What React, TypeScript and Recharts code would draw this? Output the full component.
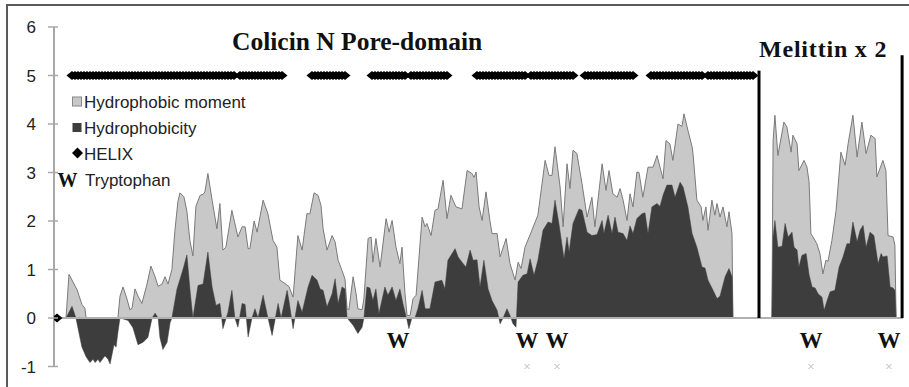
import React from 'react';
import { ComposedChart, Area, Scatter, XAxis, YAxis, ReferenceLine } from 'recharts';

// Residue position (sequence index) and hydrophobic moment
const momentPos = [
  0, 3, 4, 6.7, 8.3, 9.3, 9.7, 20.3, 21, 22, 23.3, 24.3, 25, 26, 27, 28.3, 30, 31.3, 32.7, 33.7, 35, 36, 37,
  38.3, 39.3, 40.3, 41, 42.3, 43.3, 44.3, 45.3, 46.3, 47.7, 48.7, 49.3, 50.3, 51.7, 53.3, 54.3, 55.3, 56.3,
  58.3, 60.3, 61.7, 62.7, 63.7, 64.3, 65.7, 66.7, 68.7, 70.3, 72, 73.3, 74.3, 76, 77.3, 78.7, 80.3, 81.7,
  83.3, 84.3, 85.7, 87, 88, 88.7, 90, 91.7, 92.7, 93.7, 95, 96, 96.7, 97.3, 98.7, 99.7, 100.3, 101.7, 102.3,
  103.7, 104.7, 105.3, 106.3, 107.7, 109.7, 110.7, 111.7, 113, 114.3, 115, 116, 116.7, 117.7, 118.7, 119.7,
  121.7, 122.7, 123.3, 124.7, 126, 127, 128.7, 130, 131.3, 133, 135, 136.7, 138.3, 139, 139.7, 140.7, 141.7,
  143, 144.3, 145, 146.7, 147.7, 149.7, 151, 152.7, 153.7, 154.7, 156, 158.3, 160.3, 162.7, 164, 165, 166,
  167.7, 168.7, 170, 171, 172, 173.3, 175, 176.7, 178.3, 179.3, 181.7, 183, 184, 185.3, 186.7, 187.7, 188.7,
  190, 191, 192, 193.3, 194, 195.3, 197, 198.7, 200, 202, 203, 204.3, 205.3, 207, 208.3, 209, 210.3, 211.7,
  212, 213.3, 214.7, 215.3, 216.3, 217, 218.3, 219.3, 220, 221, 222, 223.3, 224, 225, 225.3,
  238.3, 238.7, 239.3, 240.3, 242.3, 243.3, 244.7, 245.3, 246.7, 247.3, 249, 250, 250.7, 251.3, 252, 253.3,
  254.3, 255.3, 256.3, 257, 258.3, 259.7, 261.3, 262.7, 263.7, 265.3, 266.7, 268.3, 269.7, 271.3, 272.7,
  273.3, 275.3, 276.3, 277, 278.7, 279.3, 279.7,
];
const momentVal = [
  0, 0, 0.9, 0.58, 0.28, 0.2, 0, 0, 0.45, 0.64, 0.4, 0.17, 0.2, 0.6, 0.45, 0.3, 0.7, 1.07, 0.85, 0.65, 0.7, 0.85, 0.7,
  1.0, 1.8, 2.4, 2.58, 2.5, 2.2, 1.6, 1.28, 2.3, 2.53, 2.55, 2.6, 2.98, 2.43, 1.84, 2.36, 1.4, 1.46,
  2.22, 1.67, 1.88, 1.88, 1.43, 1.43, 2.0, 1.77, 2.43, 2.15, 1.6, 1.46, 0.78, 0.71, 0.65, 0.43, 1.7, 1.4,
  2.15, 2.15, 2.58, 2.53, 2.32, 1.84, 1.4, 1.7, 1.57, 1.19, 0.98, 0.8, 0.19, 0.17, 0.85, 0.5, 0.19, 0.17, 0.4,
  1.64, 1.67, 1.15, 1.64, 1.05, 2.05, 1.77, 2.01, 1.46, 1.12, 1.46, 0.5, 0.05, 0.05, 0.4, 0.47,
  2.08, 1.88, 1.95, 1.7, 2.22, 2.25, 2.84, 2.05, 2.53, 2.29, 2.25, 3.04, 2.98, 2.9, 3.01, 2.29, 2.01,
  2.6, 2.01, 1.74, 1.74, 1.26, 1.64, 1.12, 0.78, 1.15, 1.02, 1.46, 1.81, 2.12, 3.25, 2.94, 2.94, 3.53,
  2.7, 1.88, 3.18, 2.67, 3.46, 3.39, 2.77, 2.08, 2.49, 1.88, 3.18, 2.63, 3.04, 2.56, 2.49, 2.67, 2.43,
  2.01, 2.56, 2.29, 3.01, 3.0, 2.49, 3.11, 3.11, 3.35, 2.87, 3.66, 3.59, 3.25, 4.0, 3.95, 4.21, 3.87, 3.53,
  3.39, 2.43, 2.29, 2.01, 2.29, 1.81, 2.43, 2.12, 2.36, 2.08, 2.29, 1.88, 2.19, 1.74, 0,
  0, 3.66, 4.18, 3.35, 4.04, 3.94, 3.42, 3.77, 3.59, 3.04, 3.25, 3.11, 2.8, 1.74, 1.67, 1.53,
  1.33, 0.91, 1.19, 1.17, 1.6, 2.22, 3.42, 3.15, 3.59, 4.18, 3.32, 4.04, 3.39, 3.77, 3.7,
  2.91, 3.25, 3.04, 1.7, 1.67, 1.5, 0,
];

// Residue position and hydrophobicity
const hydroPos = [
  0, 3, 5, 6.3, 7.3, 8.3, 9.7, 11, 12, 12.7, 13.7, 14.3, 16, 17, 17.7, 19, 19.7, 20.3, 21, 23.7, 25.3, 27,
  28.7, 30.3, 31.7, 32.7, 33.7, 34.3, 35.3, 36.7, 37.7, 38.3, 40, 42, 43.3, 44.3, 45.3, 47, 48.7, 50.3, 51.7,
  53, 54.3, 55.3, 57, 58.3, 59.3, 60.3, 61.7, 62.7, 63.7, 65, 66, 67, 68.7, 70, 71.7, 73.7, 74.7, 76.7, 77.3,
  78.7, 80.3, 81.7, 83.7, 85, 86.7, 87.7, 88.7, 90, 91.7, 92.7, 93.7, 95, 96, 96.7, 98.7, 100.3, 101.7, 102.3,
  103.3, 104.3, 105.3, 106.3, 107.3, 109.3, 110.3, 111.7, 113, 114.3, 115.3, 116.7, 117.3, 118.3, 119.3,
  120.3, 121.7, 122.7, 124.3, 126, 128.3, 129.3, 130.3, 132.7, 133.7, 135, 136.3, 137.7, 138.7, 140, 141,
  142.3, 143.7, 145, 146.7, 147.7, 148.7, 150, 151, 152, 153, 153.7, 155.3, 156.7, 157.7, 159, 160.3, 162,
  163.7, 165, 166, 167.3, 169, 170, 170.7, 172, 174, 175, 176.7, 178.3, 180, 181.7, 182.3, 183.7, 185, 186,
  187, 188.7, 190, 191, 192, 193.3, 195, 196, 197, 198.3, 200, 201, 202, 203.3, 205, 206, 207.7, 208.7,
  210.3, 211.7, 213.3, 215, 216, 217, 218.7, 220, 221, 222.7, 224, 225, 225.3,
  238.3, 238.7, 239.3, 240.3, 241.7, 242.7, 243.7, 245, 245.7, 246.7, 247.3, 248.3, 249.7, 250.7, 251.7,
  252.7, 253.7, 255, 255.7, 256.7, 257.7, 259.3, 260.7, 262, 263.3, 264.3, 265.3, 266.7, 267.7, 268.7,
  269.7, 271, 272.3, 273.7, 274.7, 275.3, 276.7, 277.7, 278.7, 279.3, 279.7,
];
const hydroVal = [
  0, 0, 0.24, 0, -0.3, -0.6, -0.8, -0.92, -0.85, -0.92, -0.85, -0.92, -0.78, -0.85, -0.95, -0.55, -0.6, -0.3, 0, -0.05, -0.2, -0.55,
  -0.5, -0.4, 0, 0.1, 0, -0.4, -0.65, -0.5, -0.1, 0, 0.6, 1.0, 1.3, 0.6, 0, 0.67, 0.7, 1.36, 0.64,
  0.26, 0.3, -0.22, 0.12, 0.57, 0, -0.19, 0.3, 0.28, -0.39, 0, 0.19, 0, 0.47, 0.09, -0.36, 0.3, 0, 0.57, 0.36,
  -0.22, 0.36, 0.12, 0.64, 0.88, 0.78, 0.6, 0.57, 0.23, 0.5, 0.81, 0.3, 0.64, 0.6, 0, -0.15, -0.32, -0.19, 0,
  0.64, 0.62, 0.36, 0.6, 0.09, 0.64, 0.47, 0.64, 0.36, 0.6, 0.3, -0.05, -0.22, 0, 0,
  0.19, 0.57, 0.19, 0.19, 0.74, 0.78, 0.6, 1.19, 1.43, 1.26, 1.15, 1.05, 1.4, 1.19, 1.2, 0.64,
  1.19, 0.6, 0.36, 0.16, -0.12, 0, 0.19, 0.05, -0.12, -0.19, 0.74, 0.88, 0.91, 1.22, 0.88, 1.19, 1.81,
  1.98, 1.95, 2.43, 1.95, 1.22, 1.67, 1.36, 1.95, 2.25, 2.22, 1.77, 1.7, 1.72, 2.01, 1.74, 2.12, 1.74, 2.08,
  1.77, 1.74, 1.6, 1.9, 1.74, 2.05, 2.15, 2.17, 1.74, 2.29, 2.36, 2.3, 2.53, 2.74, 2.74, 2.49, 2.8, 2.7,
  2.29, 1.74, 1.46, 1.05, 1.03, 0.78, 0.57, 0.4, 0.45, 0.85, 1.02, 0.85, 0,
  0, 1.67, 2.01, 1.46, 1.48, 1.95, 1.67, 1.77, 1.46, 1.4, 1.05, 1.29, 1.33, 0.89, 0.64,
  0.62, 0.5, 0.43, 0.16, 0.36, 0.54, 0.57, 1.05, 1.26, 1.53, 1.53, 1.98, 1.57, 1.81, 1.91,
  1.46, 1.77, 1.7, 1.12, 1.33, 1.26, 1.28, 0.64, 0.62, 0.57, 0,
];

// Helix segments: [first residue, last residue]
const helixSegments: [number, number][] = [
  [5, 59], [61, 75], [85, 96], [105, 116], [118, 130], [140, 156], [158, 172], [176, 192], [198, 215], [217, 232],
];
const helixOffPos = [0];

const trpMarkPos = [156.7, 166.7, 251.3, 277.3];
const trpLabelPos = [113.7, 156.7, 166.7, 251.3, 277.3];
const colicinEnd = 234;
const melittinEnd = 281.7;
const yTicks = [-1, 0, 1, 2, 3, 4, 5, 6];

const allPos = Array.from(new Set([...momentPos, ...hydroPos])).sort((a, b) => a - b);
const mMap = new Map(momentPos.map((p, i) => [p, momentVal[i]]));
const hMap = new Map(hydroPos.map((p, i) => [p, hydroVal[i]]));
const table = allPos.map((p) => ({
  r: p,
  moment: mMap.has(p) ? mMap.get(p) : null,
  hydro: hMap.has(p) ? hMap.get(p) : null,
}));

const helixData: { r: number; helix: number }[] = [];
helixOffPos.forEach((p) => helixData.push({ r: p, helix: 0 }));
helixSegments.forEach(([s, e]) => {
  for (let r = s; r <= e; r++) helixData.push({ r, helix: 5 });
});
const trpMarkData = trpMarkPos.map((r) => ({ r, trp: -1 }));
const trpLabelData = trpLabelPos.map((r) => ({ r, trp: -1 }));

const SANS = '"Liberation Sans", Arial, sans-serif';
const SERIF = '"Liberation Serif", "Times New Roman", serif';
const AXIS_X = 54;

const Diamond = (props: any) => {
  const { cx, cy } = props;
  if (cx == null || cy == null) return null;
  return <polygon points={`${cx - 5.5},${cy} ${cx},${cy - 4.5} ${cx + 5.5},${cy} ${cx},${cy + 4.5}`} fill="#000" />;
};

const Cross = (props: any) => {
  const { cx, cy } = props;
  if (cx == null || cy == null) return null;
  return (
    <g stroke="#b8b8b8" strokeWidth={1}>
      <line x1={cx - 2.5} y1={cy - 2.5} x2={cx + 2.5} y2={cy + 2.5} />
      <line x1={cx - 2.5} y1={cy + 2.5} x2={cx + 2.5} y2={cy - 2.5} />
    </g>
  );
};

const WLabel = (props: any) => {
  const { cx, cy } = props;
  if (cx == null || cy == null) return null;
  return (
    <text x={cx} y={cy - 19} textAnchor="middle" fontFamily={SERIF} fontWeight="bold" fontSize={23} fill="#111">
      W
    </text>
  );
};

const YTick = (props: any) => {
  const { y, payload } = props;
  return (
    <g>
      <line x1={AXIS_X - 6} x2={AXIS_X + 4} y1={y} y2={y} stroke="#a8a8a8" strokeWidth={1.5} />
      <text x={AXIS_X - 18} y={y + 6} textAnchor="end" fontFamily={SANS} fontSize={17} fill="#222">
        {payload.value}
      </text>
    </g>
  );
};

export default function App() {
  return (
    <div style={{ position: 'absolute', left: 0, top: 0, width: 909, height: 387, overflow: 'hidden', background: '#fff' }}>
      <div style={{ position: 'absolute', left: 6, top: 4, width: 1000, height: 1000, border: '2px solid #5a5a5a' }} />
      <div style={{ position: 'absolute', left: 0, top: 0 }}>
        <ComposedChart width={909} height={387} data={table} margin={{ top: 27, right: 3, bottom: 20.5, left: 0 }}>
          <XAxis dataKey="r" type="number" domain={[-1, 283]} hide allowDataOverflow />
          <YAxis
            type="number"
            domain={[-1, 6]}
            ticks={yTicks}
            interval={0}
            width={54}
            tickSize={0}
            tickMargin={0}
            tickLine={false}
            axisLine={{ stroke: '#a8a8a8', strokeWidth: 2 }}
            tick={<YTick />}
          />
          <ReferenceLine segment={[{ x: 0, y: 0 }, { x: 282, y: 0 }]} stroke="#b0b0b0" strokeWidth={2} />
          <Area
            dataKey="moment"
            type="linear"
            fill="#c8c8c8"
            fillOpacity={1}
            stroke="#7a7a7a"
            strokeWidth={1}
            connectNulls
            dot={false}
            activeDot={false}
            isAnimationActive={false}
          />
          <Area
            dataKey="hydro"
            type="linear"
            fill="#3d3d3d"
            fillOpacity={1}
            stroke="#3d3d3d"
            strokeWidth={0.5}
            connectNulls
            dot={false}
            activeDot={false}
            isAnimationActive={false}
          />
          <ReferenceLine segment={[{ x: colicinEnd, y: 0 }, { x: colicinEnd, y: 5.1 }]} stroke="#000" strokeWidth={3} />
          <ReferenceLine segment={[{ x: melittinEnd, y: 0 }, { x: melittinEnd, y: 5.42 }]} stroke="#000" strokeWidth={3} />
          <Scatter data={helixData} dataKey="helix" shape={<Diamond />} isAnimationActive={false} />
          <Scatter data={trpMarkData} dataKey="trp" shape={<Cross />} isAnimationActive={false} />
          <Scatter data={trpLabelData} dataKey="trp" shape={<WLabel />} isAnimationActive={false} />
        </ComposedChart>
      </div>
      <svg width={909} height={387} style={{ position: 'absolute', left: 0, top: 0, pointerEvents: 'none' }}>
        <text x={232} y={50} fontFamily={SERIF} fontWeight="bold" fontSize={25.5} fill="#111">
          Colicin N Pore-domain
        </text>
        <text x={759} y={57} fontFamily={SERIF} fontWeight="bold" fontSize={24} letterSpacing={0.8} fill="#111">
          Melittin x 2
        </text>
        <rect x={72.5} y={97} width={9} height={9} fill="#c8c8c8" stroke="#888" strokeWidth={1} />
        <text x={84} y={108} fontFamily={SANS} fontSize={17} fill="#222">Hydrophobic moment</text>
        <rect x={72.5} y={123} width={9} height={9} fill="#3d3d3d" />
        <text x={84} y={134} fontFamily={SANS} fontSize={17} fill="#222">Hydrophobicity</text>
        <polygon points="72,153 77.5,147.5 83,153 77.5,158.5" fill="#000" />
        <text x={84} y={160} fontFamily={SANS} fontSize={17} fill="#222">HELIX</text>
        <text x={57.5} y={186.5} fontFamily={SERIF} fontWeight="bold" fontSize={20} fill="#111">W</text>
        <text x={85} y={186} fontFamily={SANS} fontSize={17} fill="#222">Tryptophan</text>
      </svg>
    </div>
  );
}
